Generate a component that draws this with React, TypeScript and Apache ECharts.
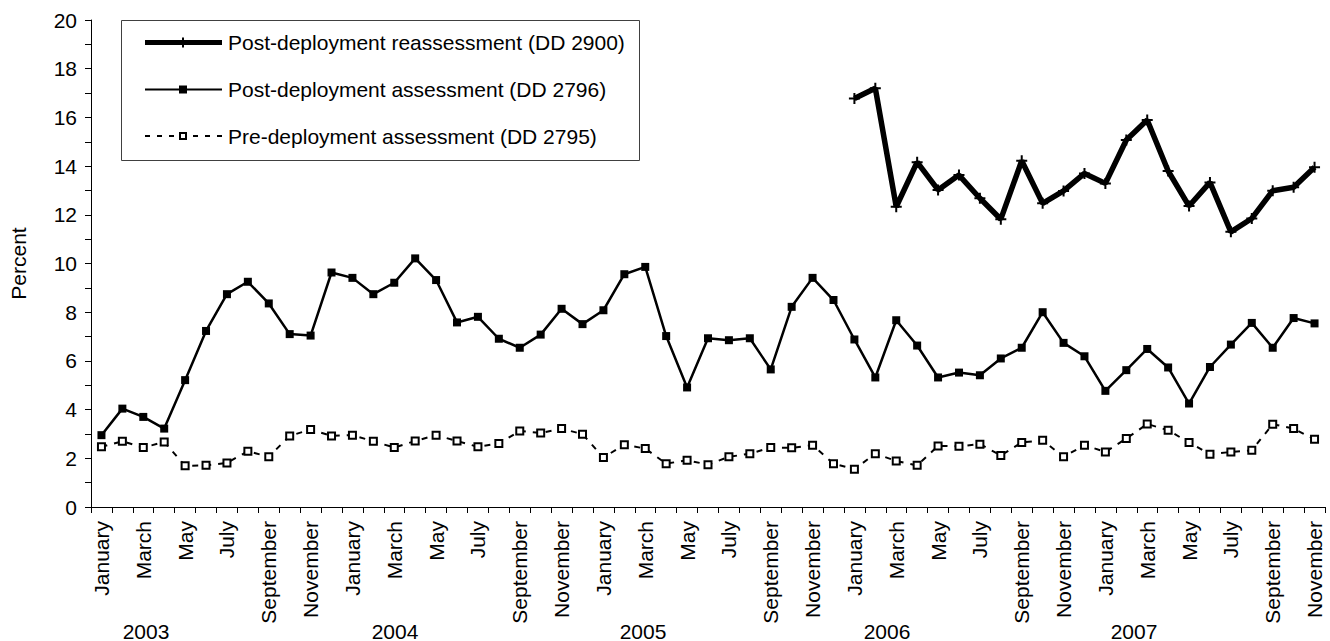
import React, { useEffect, useRef } from "react";
import * as echarts from "echarts";

const monthNames = [
  "January", "February", "March", "April", "May", "June",
  "July", "August", "September", "October", "November", "December",
];
const years = ["2003", "2004", "2005", "2006", "2007"];
const monthCount = 59; // January 2003 .. November 2007

const preDeployment = [
  2.47, 2.70, 2.44, 2.67, 1.69, 1.71, 1.81, 2.29, 2.06, 2.92, 3.18, 2.92,
  2.95, 2.70, 2.44, 2.71, 2.95, 2.71, 2.47, 2.61, 3.12, 3.04, 3.22, 2.99,
  2.03, 2.56, 2.40, 1.78, 1.92, 1.74, 2.06, 2.19, 2.44, 2.43, 2.54, 1.78,
  1.55, 2.19, 1.89, 1.71, 2.51, 2.49, 2.58, 2.12, 2.65, 2.74, 2.06, 2.54,
  2.26, 2.81, 3.41, 3.15, 2.65, 2.17, 2.26, 2.33, 3.40, 3.22, 2.78,
];
const postDeployment = [
  2.95, 4.04, 3.70, 3.22, 5.21, 7.23, 8.74, 9.25, 8.36, 7.10, 7.04, 9.63,
  9.41, 8.74, 9.21, 10.21, 9.32, 7.58, 7.81, 6.91, 6.54, 7.08, 8.14, 7.51,
  8.08, 9.56, 9.86, 7.02, 4.91, 6.93, 6.85, 6.93, 5.65, 8.22, 9.41, 8.50,
  6.88, 5.32, 7.67, 6.63, 5.32, 5.52, 5.41, 6.10, 6.54, 8.00, 6.74, 6.19,
  4.77, 5.62, 6.49, 5.73, 4.25, 5.75, 6.67, 7.56, 6.54, 7.76, 7.54,
];
// January 2006 .. November 2007
const reassessmentStart = 36;
const reassessment = [
  16.78, 17.20, 12.33, 14.16, 13.02, 13.63, 12.68, 11.82, 14.22, 12.47,
  12.98, 13.70, 13.29, 15.07, 15.89, 13.80, 12.36, 13.33, 11.30, 11.85,
  12.99, 13.13, 13.95,
];
const seriesNames = [
  "Post-deployment reassessment (DD 2900)",
  "Post-deployment assessment (DD 2796)",
  "Pre-deployment assessment (DD 2795)",
];
const yTicks = { min: 0, max: 20, interval: 2 };

const FONT = "'Liberation Sans', Arial, sans-serif";
const FS = 21;

export default function App() {
  const ref = useRef<HTMLDivElement>(null);

  useEffect(() => {
    document.body.style.margin = "0";
    if (!ref.current) return;
    const chart = echarts.init(ref.current, undefined, { renderer: "svg" });

    const categories: string[] = [];
    for (let i = 0; i < monthCount; i++) {
      categories.push(monthNames[i % 12] + " " + years[Math.floor(i / 12)]);
    }
    const reData: (number | null)[] = categories.map((_, i) =>
      i >= reassessmentStart ? reassessment[i - reassessmentStart] : null
    );

    const gridLeft = 82;
    const gridRight = 5;
    const gridTop = 20;
    const gridBottom = 134;
    const plusPath = "path://M0,5L10,5M5,0L5,10";

    // legend layout
    const lgX = 121.5, lgY = 20.5, lgW = 518, lgH = 140;
    const rowY = [42.5, 89.5, 136];
    const sx0 = 145, sx1 = 222, sm = 183, tx = 228;
    const yearX = [146, 395, 643, 887, 1134];

    const legendGraphics: any[] = [
      {
        type: "rect",
        shape: { x: lgX, y: lgY, width: lgW, height: lgH },
        style: { fill: "#fff", stroke: "#404040", lineWidth: 1 },
        z: 100,
      },
      // row 1
      { type: "line", shape: { x1: sx0, y1: rowY[0], x2: sx1, y2: rowY[0] }, style: { stroke: "#000", lineWidth: 5 }, z: 101 },
      { type: "line", shape: { x1: sm - 5, y1: rowY[0], x2: sm + 5, y2: rowY[0] }, style: { stroke: "#000", lineWidth: 2 }, z: 102 },
      { type: "line", shape: { x1: sm, y1: rowY[0] - 5, x2: sm, y2: rowY[0] + 5 }, style: { stroke: "#000", lineWidth: 2 }, z: 102 },
      // row 2
      { type: "line", shape: { x1: sx0, y1: rowY[1], x2: sx1, y2: rowY[1] }, style: { stroke: "#000", lineWidth: 2 }, z: 101 },
      { type: "rect", shape: { x: sm - 4, y: rowY[1] - 4, width: 8, height: 8 }, style: { fill: "#000" }, z: 102 },
      // row 3
      { type: "line", shape: { x1: sx0, y1: rowY[2], x2: sx1, y2: rowY[2] }, style: { stroke: "#000", lineWidth: 2, lineDash: [5, 7] }, z: 101 },
      { type: "rect", shape: { x: sm - 6, y: rowY[2] - 6, width: 12, height: 12 }, style: { fill: "#fff" }, z: 102 },
      { type: "rect", shape: { x: sm - 3, y: rowY[2] - 3, width: 6, height: 6 }, style: { fill: "#fff", stroke: "#000", lineWidth: 2 }, z: 103 },
    ];
    seriesNames.forEach((name, i) => {
      legendGraphics.push({
        type: "text",
        x: tx,
        y: rowY[i],
        style: {
          text: name,
          fill: "#000",
          font: `${FS}px ${FONT}`,
          textVerticalAlign: "middle",
          textAlign: "left",
        },
        z: 103,
      });
    });
    years.forEach((yr, i) => {
      legendGraphics.push({
        type: "text",
        x: yearX[i],
        y: 631,
        style: {
          text: yr,
          fill: "#000",
          font: `${FS}px ${FONT}`,
          textAlign: "center",
          textVerticalAlign: "middle",
        },
      });
    });

    chart.setOption({
      animation: false,
      backgroundColor: "#fff",
      textStyle: { fontFamily: FONT },
      grid: { left: gridLeft, right: gridRight, top: gridTop, bottom: gridBottom, containLabel: false },
      xAxis: {
        type: "category",
        data: categories,
        boundaryGap: true,
        axisLine: { lineStyle: { color: "#000", width: 1 } },
        axisTick: { show: true, interval: 0, length: 6, lineStyle: { color: "#000" } },
        axisLabel: {
          interval: 1,
          rotate: 90,
          margin: 14,
          color: "#000",
          fontSize: FS,
          fontFamily: FONT,
          formatter: (v: string) => v.split(" ")[0],
        },
        splitLine: { show: false },
      },
      yAxis: {
        type: "value",
        min: yTicks.min,
        max: yTicks.max,
        interval: yTicks.interval,
        name: "Percent",
        nameLocation: "middle",
        nameGap: 62,
        nameRotate: 90,
        nameTextStyle: { color: "#000", fontSize: FS, fontFamily: FONT },
        axisLine: { show: true, lineStyle: { color: "#000", width: 1 } },
        axisTick: { show: true, length: 6, lineStyle: { color: "#000" } },
        minorTick: { show: true, splitNumber: 2, length: 6, lineStyle: { color: "#000" } },
        axisLabel: { color: "#000", fontSize: FS, fontFamily: FONT, margin: 14 },
        splitLine: { show: false },
      },
      series: [
        {
          name: seriesNames[0],
          type: "line",
          data: reData,
          connectNulls: false,
          symbol: plusPath,
          symbolSize: 11,
          showAllSymbol: true,
          lineStyle: { color: "#000", width: 5.5 },
          itemStyle: { color: "#000", borderColor: "#000", borderWidth: 2 },
          z: 5,
        },
        {
          name: seriesNames[1],
          type: "line",
          data: postDeployment,
          symbol: "rect",
          symbolSize: 8,
          showAllSymbol: true,
          lineStyle: { color: "#000", width: 2.5 },
          itemStyle: { color: "#000" },
          z: 4,
        },
        {
          name: seriesNames[2],
          type: "line",
          data: preDeployment,
          symbol: "rect",
          symbolSize: 7,
          showAllSymbol: true,
          lineStyle: { color: "#000", width: 2, type: [6, 7] },
          itemStyle: { color: "#fff", borderColor: "#000", borderWidth: 2 },
          z: 3,
        },
      ],
      graphic: legendGraphics,
    });

    return () => chart.dispose();
  }, []);

  return <div ref={ref} style={{ width: 1330, height: 641 }} />;
}
